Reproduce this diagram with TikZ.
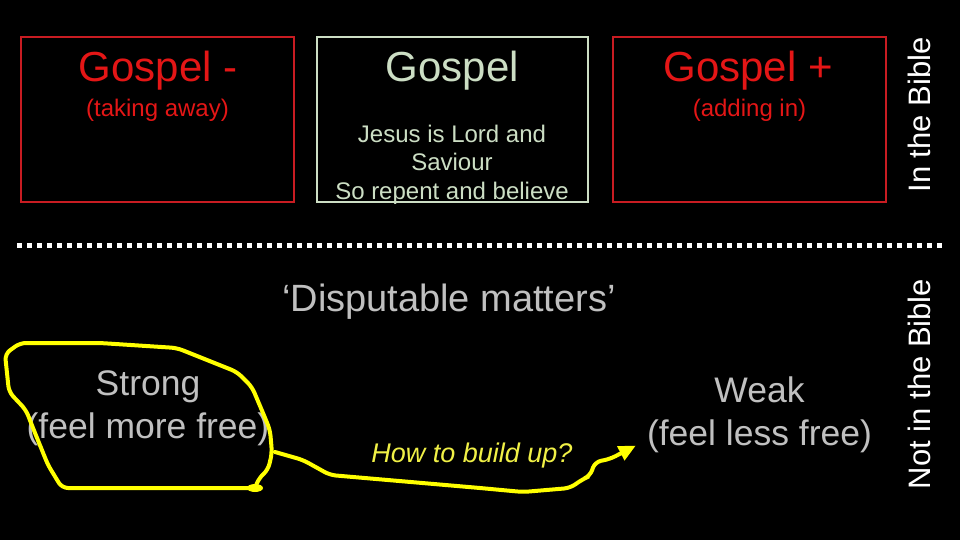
\documentclass[tikz,border=0pt]{standalone}
\usepackage{fontspec}
\setmainfont{Liberation Sans}
\usetikzlibrary{arrows.meta}
\definecolor{gred}{RGB}{228,22,22}
\definecolor{boxred}{RGB}{200,28,34}
\definecolor{pale}{RGB}{204,222,196}
\definecolor{grey}{RGB}{192,192,192}
\definecolor{marker}{RGB}{255,255,0}
\definecolor{markertext}{RGB}{240,240,70}
\tikzstyle{box} = [rectangle, minimum height=165pt, line width=2pt, inner sep=0pt]
\tikzstyle{head} = [font=\fontsize{42}{50}\selectfont, inner sep=0pt, anchor=base]
\tikzstyle{sub} = [font=\fontsize{24}{29}\selectfont, inner sep=0pt, anchor=base, align=center]
\tikzstyle{big} = [font=\fontsize{35.5}{43}\selectfont, inner sep=0pt, anchor=base, align=center, text=grey]
\tikzstyle{side} = [font=\fontsize{31}{37}\selectfont, inner sep=0pt, anchor=base, rotate=90, text=white]
\tikzstyle{scribble} = [draw=marker, line width=4pt, rounded corners=6pt, line cap=round, line join=round]
\tikzstyle{arrow} = [-{Triangle[length=17pt,width=15pt]}]

\begin{document}
\begin{tikzpicture}[x=1pt, y=-1pt]

    \fill [black] (0, 0) rectangle (960, 540);

    \node (minusbox) [box, draw=boxred, minimum width=273pt] at (157.5, 119.5) {};
    \node (gospelbox) [box, draw=pale, minimum width=271pt] at (452.5, 119.5) {};
    \node (plusbox) [box, draw=boxred, minimum width=273pt] at (749.5, 119.5) {};

    \node (minus) [head, text=gred] at (158, 82) {Gospel -};
    \node (taking) [sub, text=gred] at (157.5, 117) {(taking away)};
    \node (gospel) [head, text=pale] at (452.5, 82) {Gospel};
    \node (jesus) [sub, text=pale] at (452, 200) {Jesus is Lord and\\Saviour\\So repent and believe};
    \node (plus) [head, text=gred] at (748, 82) {Gospel +};
    \node (adding) [sub, text=gred] at (749.5, 117) {(adding in)};

    \node (inbible) [side] at (930, 115) {In the Bible};
    \node (notbible) [side] at (930, 384) {Not in the Bible};

    \draw [white, line width=5pt, dash pattern=on 5pt off 5pt] (17, 245) -- (942, 245);

    \node (disputable) [font=\fontsize{38}{45}\selectfont, inner sep=0pt, anchor=base, text=grey] at (449, 311) {‘Disputable matters’};
    \node (strong) [big] at (148, 438) {Strong\\(feel more free)};
    \node (weak) [big] at (759.5, 445) {Weak\\(feel less free)};
    \node (build) [font=\fontsize{27}{32}\selectfont\itshape, inner sep=0pt, anchor=base, text=markertext] at (472, 462) {How to build up?};

    \coordinate (loopstart) at (275, 452);

    \draw [scribble] (255, 488) -- (62, 488) -- (48, 465) -- (33, 428) -- (26, 410) -- (9, 392) -- (5, 354) -- (20, 343) -- (100, 343) -- (177, 348) -- (237, 372) -- (252, 387) -- (263, 413) -- (270, 430) -- (272, 453) -- (268, 470) -- (259, 478) -- (255, 488);
    \fill [marker] (255, 488) ellipse (8pt and 4pt);

    \draw [scribble, arrow] (loopstart) -- (303, 460) -- (330, 475) -- (480, 488) -- (523, 492) -- (570, 488) -- (583, 479) -- (590, 476) -- (595, 462) -- (610, 459) -- ([xshift=-11pt, yshift=7pt]weak.south west);

\end{tikzpicture}
\end{document}
